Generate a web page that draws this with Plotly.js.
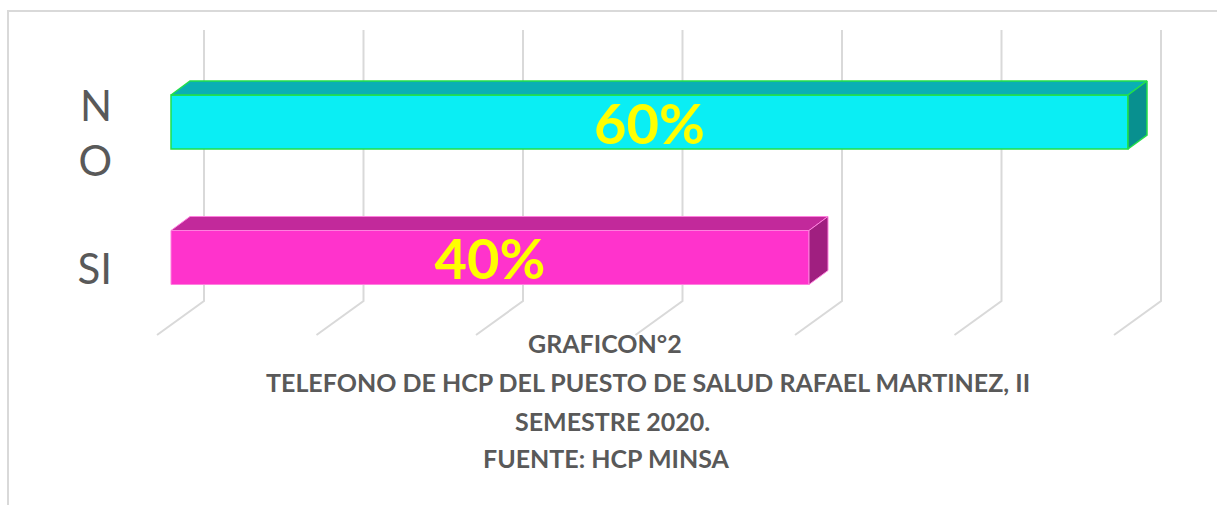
<!DOCTYPE html>
<html><head><meta charset="utf-8">
<script src="https://cdn.plot.ly/plotly-3.0.1.min.js"></script>
<style>html,body{margin:0;padding:0;background:#fff}#chart{width:1217px;height:505px}</style>
</head><body><div id="chart"></div>
<script>
// ---- data ----
const categories = ['SI', 'NO'];
const categoryLabels = ['SI', 'N<br>O'];
const percentValues = [40, 60];
const percentLabels = ['40%', '60%'];
const gridValues = [0, 10, 20, 30, 40, 50, 60];
const titleLines = ['GRAFICON°2', 'TELEFONO DE HCP DEL PUESTO DE SALUD RAFAEL MARTINEZ, II', 'SEMESTRE 2020.', 'FUENTE: HCP MINSA'];

// ---- style / geometry ----
const W = 1217, H = 505;
const M = {l: 125, r: 17, t: 0, b: 0};
const X0 = 171, KX = 15.95;    // pixel of value 0 on bar front plane, px per unit
const Y0 = 257.5, KY = 135.5;  // pixel of first category, px per category step
const xRange = [(M.l - X0) / KX, (W - M.r - X0) / KX];
const yRange = [(Y0 - (H - M.b)) / KY, (Y0 - M.t) / KY];
const ux = p => p / KX, uy = p => p / KY;
const pyv = p => (Y0 - p) / KY;
const barHalf = uy(27);
const depthX = ux(19), depthY = uy(14);
const gridBackDX = ux(33), gridFrontDX = ux(-14);
const gridTop = pyv(30), gridBackFloor = pyv(301), gridFrontFloor = pyv(335);
const paperX = p => (p - M.l) / (W - M.l - M.r);
const paperY = p => 1 - (p - M.t) / (H - M.t - M.b);

const FRONT = ['#FF33CC', '#0AEEF4'];
const TOP = ['#C2299B', '#0AAFB4'];
const SIDE = ['#A01F80', '#08908F'];
const EDGE = ['#FF80DE', '#22E04A'];
const EDGEW = [1, 1.5];
const FONT = 'Lato, "Open Sans", sans-serif';
const GRAY = '#595959';
const GRID = '#D9D9D9';

const yPos = categories.map((c, i) => i);

const traces = [];
// 3D faces
categories.forEach((c, i) => {
  const v = percentValues[i], yc = yPos[i];
  const yt = yc + barHalf, yb = yc - barHalf;
  traces.push({
    type: 'scatter', mode: 'lines', fill: 'toself', fillcolor: TOP[i],
    x: [0, depthX, v + depthX, v, 0], y: [yt, yt + depthY, yt + depthY, yt, yt],
    line: {color: EDGE[i], width: EDGEW[i]}, hoverinfo: 'skip', showlegend: false
  });
  traces.push({
    type: 'scatter', mode: 'lines', fill: 'toself', fillcolor: SIDE[i],
    x: [v, v + depthX, v + depthX, v, v], y: [yt, yt + depthY, yb + depthY, yb, yt],
    line: {color: EDGE[i], width: EDGEW[i]}, hoverinfo: 'skip', showlegend: false
  });
});
// front faces
traces.push({
  type: 'bar', orientation: 'h', x: percentValues, y: yPos, width: barHalf * 2,
  marker: {color: FRONT, line: {color: EDGE, width: EDGEW}},
  text: percentLabels, textposition: 'inside', insidetextanchor: 'middle',
  textangle: 0, constraintext: 'none',
  textfont: {family: FONT, size: 56, color: '#FFFF00', weight: 700},
  hoverinfo: 'x+y', showlegend: false
});

const shapes = gridValues.map(g => ({
  type: 'path', layer: 'below', xref: 'x', yref: 'y',
  path: `M ${g + gridBackDX},${gridTop} L ${g + gridBackDX},${gridBackFloor} L ${g + gridFrontDX},${gridFrontFloor}`,
  line: {color: GRID, width: 2}
}));
shapes.push({
  type: 'rect', xref: 'paper', yref: 'paper', layer: 'below',
  x0: paperX(8), x1: paperX(1240), y0: paperY(11), y1: paperY(530),
  line: {color: GRID, width: 2}
});

const titleX = [605, 648, 612, 606];
const titleY = [343, 382, 421, 458];
const annotations = titleLines.map((t, i) => ({
  text: t, xref: 'paper', yref: 'paper', x: paperX(titleX[i]), y: paperY(titleY[i]),
  xanchor: 'center', yanchor: 'middle', showarrow: false,
  font: {family: FONT, size: 25, color: GRAY, weight: 700}
}));

const layout = {
  width: W, height: H, margin: M, paper_bgcolor: '#fff', plot_bgcolor: 'rgba(0,0,0,0)',
  font: {family: FONT, color: GRAY},
  showlegend: false,
  xaxis: {range: xRange, showgrid: false, zeroline: false, showline: false, showticklabels: false, ticks: '', fixedrange: true},
  yaxis: {range: yRange, tickmode: 'array', tickvals: yPos, ticktext: categoryLabels,
    showgrid: false, zeroline: false, showline: false, ticks: '',
    tickfont: {family: FONT, size: 42, color: GRAY}, ticklabelshift: 12, ticklabelstandoff: 12, fixedrange: true},
  shapes: shapes, annotations: annotations
};
Plotly.newPlot('chart', traces, layout, {displayModeBar: false, staticPlot: true});
</script></body></html>
